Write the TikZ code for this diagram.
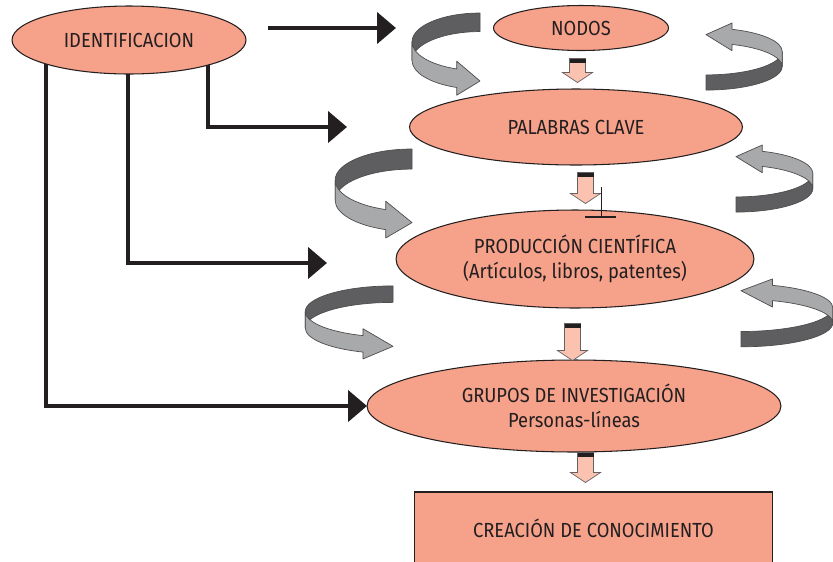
\documentclass[tikz,border=0pt]{standalone}
\usepackage{fontspec}
\setmainfont{Fira Sans}[FakeStretch=0.9]
\usepackage{xcolor}
\usepackage{tikz}
\usetikzlibrary{calc,arrows.meta,shapes.geometric}
\definecolor{salmon}{HTML}{F6A18A}
\definecolor{blush}{HTML}{FBC2B0}
\definecolor{ink}{HTML}{231F20}
\definecolor{ribdark}{HTML}{5E5E60}
\definecolor{riblight}{HTML}{A8A9AB}
\tikzset{
  oval/.style={ellipse, draw=ink, line width=0.6pt, fill=salmon, text=ink, inner sep=0pt, align=center, font=\fontsize{11.6}{14.5}\selectfont},
  plate/.style={rectangle, draw=ink, line width=0.6pt, fill=salmon, text=ink, inner sep=0pt, font=\fontsize{11.6}{14.5}\selectfont},
  link/.style={draw=ink, line width=2.6pt, line join=miter, -{Triangle[length=10.8pt,width=17.6pt]}},
  rib/.style={draw=ink!80, line width=0.4pt, line join=round},
  pics/curl/.style={code={
    \draw[rib, fill=ribdark] (0,-46) arc[start angle=270, end angle=180, x radius=68, y radius=28] -- (-68,0) arc[start angle=180, end angle=270, x radius=68, y radius=28] -- cycle;
    \draw[rib, fill=riblight] (-68,-18) -- (-68,0) arc[start angle=180, end angle=110, x radius=68, y radius=28] -- (-23.26,33.8) -- (0,20) -- (-23.26,0.8) -- (-23.26,8.31) arc[start angle=110, end angle=180, x radius=68, y radius=28] -- cycle;
  }},
  pics/drop/.style={code={
    \draw[draw=ink!70, line width=0.4pt, fill=blush] (-8,0) -- (8,0) -- (8,#1-10) -- (15,#1-10) -- (0,#1) -- (-15,#1-10) -- (-8,#1-10) -- cycle;
    \fill[ink] (-8,0) rectangle (8,4);
  }},
}
\begin{document}
\begin{tikzpicture}[x=0.02cm, y=-0.02cm]
  \useasboundingbox (0,0) rectangle (833,562);
  \node[oval, minimum width=4.68cm, minimum height=1.36cm] (iden) at (129,40) {IDENTIFICACION};
  \node[oval, minimum width=3.5cm, minimum height=0.9cm] (nodos) at (581,28) {NODOS};
  \node[oval, minimum width=6.66cm, minimum height=1.52cm] (clave) at (576,127) {PALABRAS CLAVE};
  \node[oval, minimum width=7.16cm, minimum height=1.96cm] (prod) at (575,259) {PRODUCCIÓN CIENTÍFICA\\(Artículos, libros, patentes)};
  \node[oval, minimum width=8.28cm, minimum height=1.84cm] (grupos) at (574,406) {GRUPOS DE INVESTIGACIÓN\\Personas-líneas};
  \node[plate, minimum width=7.18cm, minimum height=1.44cm] (crea) at (593.5,528) {CREACIÓN DE CONOCIMIENTO};

  \pic at ($(nodos.south)+(-3.5,7.5)$) {drop=24};
  \pic at ($(clave.south)+(9.5,7)$) {drop=31};
  \pic at ($(prod.south)+(-2.5,15)$) {drop=37};
  \pic at ($(grupos.south)+(11.5,0)$) {drop=30};

  \pic[yscale=1.03] at (480,60.4) {curl};
  \pic[xscale=1.13, yscale=1.115] at (412,200.3) {curl};
  \pic[xscale=1.29, yscale=0.915] at (393,328) {curl};
  \pic[rotate=180, xscale=1.12, yscale=0.84] at (706,51.4) {curl};
  \pic[rotate=180, xscale=1.13, yscale=0.84] at (736,173.4) {curl};
  \pic[rotate=180, xscale=1.35, yscale=0.85] at (741,307.7) {curl};

  \coordinate (s1) at (268,28);
  \coordinate (t1) at (396,28);
  \coordinate (s2) at (208,65);
  \coordinate (t2) at (347,127);
  \coordinate (s3) at (128,74);
  \coordinate (t3) at (327,263);
  \coordinate (s4) at (46,64);
  \coordinate (t4) at (367,406);
  \draw[link] (s1) -- (t1);
  \draw[link] (s2) |- (t2);
  \draw[link] (s3) |- (t3);
  \draw[link] (s4) |- (t4);

  \draw[ink, line width=0.5pt] (601,187) -- (601,217);
  \draw[ink, line width=1pt] (585,217) -- (616,217);
\end{tikzpicture}
\end{document}
